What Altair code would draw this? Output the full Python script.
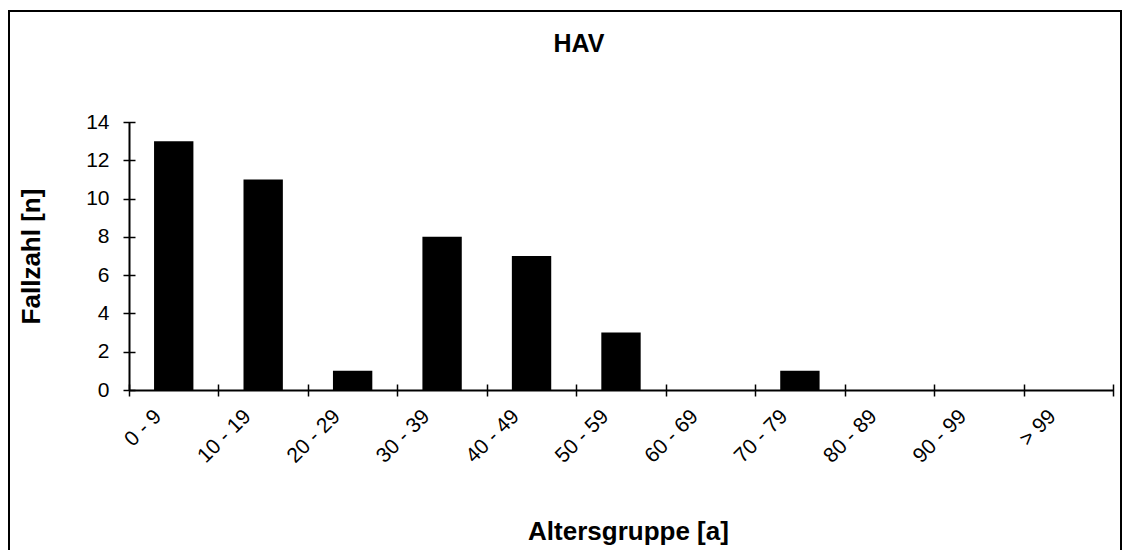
import altair as alt
import pandas as pd

categories = ["0 - 9", "10 - 19", "20 - 29", "30 - 39", "40 - 49", "50 - 59",
              "60 - 69", "70 - 79", "80 - 89", "90 - 99", "> 99"]
values = [13, 11, 1, 8, 7, 3, 0, 1, 0, 0, 0]
y_ticks = [0, 2, 4, 6, 8, 10, 12, 14]

df = pd.DataFrame({"Altersgruppe": categories, "Fallzahl": values})

W, H = 984, 268
FONT = "Liberation Sans"

xscale = alt.Scale(domain=categories, paddingInner=0, paddingOuter=0)
yscale = alt.Scale(domain=[0, 14], nice=False)

base = alt.Chart(df)

bars = base.mark_bar(color="black", width=alt.RelativeBandSize(0.44)).encode(
    x=alt.X("Altersgruppe:N", sort=categories, scale=xscale,
            axis=alt.Axis(orient="bottom", domain=False, ticks=True, tickSize=12,
                          tickWidth=1.5, tickColor="black", offset=-6,
                          tickBand="extent", labelAngle=-45, labelAlign="right",
                          labelBaseline="middle", labelOffset=-16, labelPadding=17,
                          labelFont=FONT, labelFontSize=21, labelColor="black",
                          labelOverlap=False, labelFlush=False, labelBound=False,
                          title="Altersgruppe [a]", titleFont=FONT, titleFontSize=26,
                          titleFontWeight="bold", titleColor="black",
                          titleAlign="center", titleBaseline="middle",
                          titleX=499, titleY=147)),
    y=alt.Y("Fallzahl:Q", scale=yscale,
            axis=alt.Axis(orient="left", domain=False, ticks=True, tickSize=12,
                          tickWidth=1.5, tickColor="black", offset=-6,
                          values=y_ticks, grid=False, labelPadding=14,
                          labelFont=FONT, labelFontSize=21, labelColor="black",
                          title="Fallzahl [n]", titleFont=FONT, titleFontSize=26,
                          titleFontWeight="bold", titleColor="black",
                          titleBaseline="middle", titleX=-104)),
)

domains = base.mark_bar(opacity=0).encode(
    x=alt.X("Altersgruppe:N", sort=categories, scale=xscale,
            axis=alt.Axis(orient="bottom", domain=True, domainColor="black",
                          domainWidth=2, ticks=False, labels=False, title=None)),
    y=alt.Y("Fallzahl:Q", scale=yscale,
            axis=alt.Axis(orient="left", domain=True, domainColor="black",
                          domainWidth=2, ticks=False, labels=False, grid=False,
                          title=None)),
)

border = alt.Chart(pd.DataFrame({"k": [0]})).mark_rect(
    fill=None, stroke="black", strokeWidth=2
).encode(
    x=alt.value(-120), x2=alt.value(992), y=alt.value(-111), y2=alt.value(445)
)

title = alt.Chart(pd.DataFrame({"t": ["HAV"]})).mark_text(
    font=FONT, fontSize=25, fontWeight="bold", color="black",
    align="center", baseline="alphabetic"
).encode(text="t:N", x=alt.value(450), y=alt.value(-70))

chart = alt.layer(border, bars, domains, title).resolve_axis(
    x="independent", y="independent"
).properties(
    width=W, height=H,
    autosize=alt.AutoSizeParams(type="none"),
    padding={"left": 121, "top": 114, "right": 10, "bottom": 160},
    background="white",
).configure_view(stroke=None)

chart.save("out.html", embed_options={"renderer": "svg", "actions": False})
